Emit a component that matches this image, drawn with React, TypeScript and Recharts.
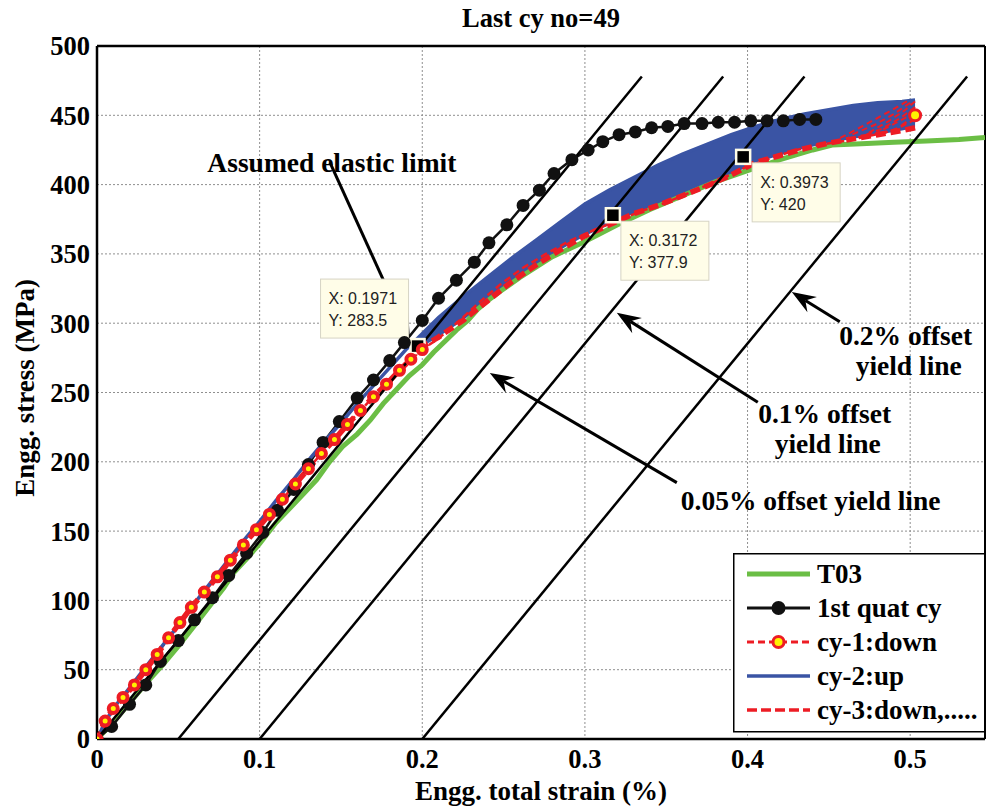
import React from 'react';
import {
  ComposedChart,
  Line,
  Area,
  XAxis,
  YAxis,
  CartesianGrid,
  ReferenceLine,
  ReferenceDot,
  Legend,
} from 'recharts';

const SERIF = '"Liberation Serif", "Times New Roman", Times, serif';
const SANS = '"Liberation Sans", Arial, Helvetica, sans-serif';

const RED = '#ED1C24';
const BLUE = '#3A54A4';
const GREEN = '#6BBE45';
const YELLOW = '#FFF200';
const BLACK = '#111111';

// Axis ticks
const strainTicks = [0, 0.1, 0.2, 0.3, 0.4, 0.5];
const stressTicks = [0, 50, 100, 150, 200, 250, 300, 350, 400, 450, 500];

// T03 monotonic tensile curve
const t03Strain = [0, 0.010, 0.020, 0.030, 0.040, 0.050, 0.060, 0.070, 0.078, 0.084, 0.092, 0.100, 0.110, 0.119, 0.127, 0.135, 0.143, 0.151, 0.160, 0.168, 0.176, 0.184, 0.192, 0.200, 0.207, 0.214, 0.221, 0.228, 0.234, 0.241, 0.248, 0.260, 0.280, 0.300, 0.320, 0.340, 0.360, 0.380, 0.400, 0.420, 0.440, 0.452, 0.470, 0.490, 0.510, 0.530, 0.546];
const t03Stress = [0, 12, 26, 40, 53, 67, 82, 97, 109, 120, 130, 141, 156, 167, 177, 187, 200, 211, 220, 230, 242, 252, 262, 270, 279, 287, 295, 302, 310, 317, 323, 333, 348, 359, 371, 382, 392, 402, 410, 418, 425, 428.5, 429.5, 430.5, 431.5, 432.5, 434];

// First quarter cycle
const quatStrain = [0, 0.009, 0.020, 0.030, 0.039, 0.050, 0.060, 0.071, 0.081, 0.092, 0.102, 0.111, 0.121, 0.130, 0.139, 0.149, 0.160, 0.170, 0.180, 0.189, 0.200, 0.210, 0.221, 0.232, 0.241, 0.252, 0.262, 0.272, 0.281, 0.292, 0.302, 0.311, 0.321, 0.331, 0.341, 0.351, 0.361, 0.372, 0.382, 0.392, 0.402, 0.412, 0.422, 0.432, 0.442];
const quatStress = [0, 9, 25, 39, 56, 71, 86, 102, 118, 134, 149, 165, 180, 198, 214, 229, 246, 259, 273, 286, 302, 318, 331, 344, 358, 371, 385, 396, 408, 418, 425, 431, 436, 438, 441, 442, 444, 444, 445, 445, 446, 446, 446, 447, 447];

// cy-1: unloading branch
const cy1Strain = [0, 0.005, 0.010, 0.016, 0.023, 0.030, 0.037, 0.044, 0.051, 0.058, 0.066, 0.074, 0.082, 0.090, 0.098, 0.106, 0.114, 0.122, 0.130, 0.138, 0.146, 0.154, 0.162, 0.170, 0.178, 0.186, 0.193, 0.200, 0.210, 0.222, 0.235, 0.248, 0.262, 0.276, 0.290, 0.305, 0.320, 0.335, 0.350, 0.366, 0.382, 0.398, 0.414, 0.430, 0.446, 0.462, 0.478, 0.492, 0.503];
const cy1Stress = [0, 13, 22, 30, 39, 50, 61, 73, 84, 95, 106, 117, 129, 140, 151, 162, 173, 184, 195, 206, 216, 227, 237, 247, 256, 266, 274, 281, 289, 301, 315, 328, 340, 350, 359, 367, 374, 381, 387, 395, 403, 412, 419, 425, 429, 432, 436, 440, 450];

// cy-2: reloading branch
const cy2Strain = [0, 0.005, 0.010, 0.020, 0.030, 0.040, 0.050, 0.060, 0.070, 0.080, 0.090, 0.100, 0.110, 0.120, 0.130, 0.140, 0.150, 0.160, 0.170, 0.180, 0.190, 0.197, 0.210, 0.225, 0.240, 0.255, 0.270, 0.285, 0.300, 0.315, 0.330, 0.345, 0.360, 0.375, 0.390, 0.405, 0.420, 0.435, 0.450, 0.465, 0.480, 0.495, 0.503];
const cy2Stress = [0, 12, 22, 37, 52, 67, 82, 98, 113, 128, 143, 157, 172, 186, 201, 215, 228, 242, 255, 268, 281, 289, 304, 319, 333, 347, 360, 373, 386, 396, 405, 414, 422, 429, 436, 442, 447, 451, 454, 457, 459, 460, 461];

// Envelope swept by the later cycles
const bandStrain = [0.197, 0.210, 0.225, 0.240, 0.255, 0.270, 0.285, 0.300, 0.315, 0.330, 0.345, 0.360, 0.375, 0.390, 0.405, 0.420, 0.435, 0.450, 0.465, 0.480, 0.495, 0.503];
const bandLow = [281, 290, 302, 316, 330, 342, 353, 363, 371, 379, 385, 392, 399, 407, 416, 421, 426, 430, 433, 436, 439, 441];
const bandHigh = [289, 304, 319, 333, 347, 360, 373, 386, 396, 405, 414, 422, 429, 436, 442, 447, 451, 454, 457, 459, 460, 461];

// Unloading branches of the last cycles near the peak
const unloadStrain = [
  [0.503, 0.496, 0.487, 0.474],
  [0.503, 0.494, 0.482, 0.468],
  [0.503, 0.492, 0.479],
  [0.503, 0.495, 0.484],
  [0.500, 0.490, 0.478, 0.462],
  [0.498, 0.486, 0.472, 0.456],
];
const unloadStress = [
  [460, 453, 446, 437],
  [456, 448, 440, 434],
  [452, 445, 437],
  [447, 442, 437],
  [459, 451, 443, 435],
  [460, 452, 443, 433],
];

// Elastic line and offset yield lines
const offsetStart = [0, 0.05, 0.1, 0.2];
const offsetEnd = [0.335, 0.385, 0.435, 0.535];
const offsetTopStress = 478;

// Data cursors
const tipStrain = [0.1971, 0.3172, 0.3973];
const tipStress = [283.5, 377.9, 420];

// Annotation text anchors (strain, stress at text baseline)
const noteText = ['Assumed elastic limit', '0.05% offset yield line', '0.1% offset', 'yield line', '0.2% offset', 'yield line'];
const noteStrain = [0.1444, 0.4388, 0.4474, 0.4493, 0.4972, 0.4991];
const noteStress = [409, 165, 228, 206, 284, 262.5];

// Annotation arrows: tail -> head
const arrowTailStrain = [0.1432, 0.3565, 0.4063, 0.4567];
const arrowTailStress = [416, 185, 243, 301];
const arrowHeadStrain = [0.1924, 0.2415, 0.3196, 0.4272];
const arrowHeadStress = [289, 264, 307.5, 322.5];

const legendLabels = ['T03', '1st quat cy', 'cy-1:down', 'cy-2:up', 'cy-3:down,.....'];

const zip = (xs: number[], ys: number[]) => xs.map((x, i) => ({ x, y: ys[i] }));

const t03Data = zip(t03Strain, t03Stress);
const quatData = zip(quatStrain, quatStress);
const cy1Data = zip(cy1Strain, cy1Stress);
const cy2Data = zip(cy2Strain, cy2Stress);
const bandData = bandStrain.map((x, i) => ({ x, range: [bandLow[i], bandHigh[i]] }));
const cy3Data = [
  ...cy1Data.filter((p) => p.x < 0.197),
  ...zip(bandStrain, bandLow),
].reverse();
const unloadData = unloadStrain.map((xs, i) => zip(xs, unloadStress[i]));
const offsetData = offsetStart.map((x0, i) => [
  { x: x0, y: 0 },
  { x: offsetEnd[i], y: offsetTopStress },
]);

const TIP_OFFSETS = [
  [-97, -67],
  [8, 6],
  [9, 6],
];

const tickStyle = { fill: '#000', fontSize: 26.5, fontWeight: 'bold', fontFamily: SERIF };

function Arrow(props: any) {
  const { x1, y1, x2, y2 } = props;
  const dx = x2 - x1;
  const dy = y2 - y1;
  const L = Math.hypot(dx, dy) || 1;
  const ux = dx / L;
  const uy = dy / L;
  const nx = -uy;
  const ny = ux;
  const len = 24;
  const hw = 9;
  const notch = 16;
  const bx = x2 - ux * len;
  const by = y2 - uy * len;
  const p1 = `${bx + nx * hw},${by + ny * hw}`;
  const p2 = `${bx - nx * hw},${by - ny * hw}`;
  const pn = `${x2 - ux * notch},${y2 - uy * notch}`;
  return (
    <g>
      <line x1={x1} y1={y1} x2={x2 - ux * notch} y2={y2 - uy * notch} stroke="#000" strokeWidth={3} />
      <polygon points={`${x2},${y2} ${p1} ${pn} ${p2}`} fill="#000" />
    </g>
  );
}

function makeTip(i: number) {
  return (p: any) => {
    const { cx, cy } = p;
    const [ox, oy] = TIP_OFFSETS[i];
    const bx = cx + ox;
    const by = cy + oy;
    return (
      <g>
        <rect x={bx} y={by} width={88} height={59} fill="#FFFDE8" stroke="#D6D4C4" strokeWidth={1} />
        <text x={bx + 8} y={by + 25} fontFamily={SANS} fontSize={16} fill="#222">
          {`X: ${tipStrain[i]}`}
        </text>
        <text x={bx + 8} y={by + 47} fontFamily={SANS} fontSize={16} fill="#222">
          {`Y: ${tipStress[i]}`}
        </text>
        <rect x={cx - 7} y={cy - 7} width={14} height={14} fill="#000" stroke="#FFFDE8" strokeWidth={2.5} />
      </g>
    );
  };
}

function makeNote(i: number) {
  return (p: any) => (
    <text
      x={p.cx}
      y={p.cy}
      textAnchor="middle"
      fontFamily={SERIF}
      fontWeight="bold"
      fontSize={27.5}
      fill="#000"
    >
      {noteText[i]}
    </text>
  );
}

// cy-1 circles are drawn on the shared elastic part and at the peak
function Cy1Dot(p: any) {
  const last = p.index === cy1Data.length - 1;
  if (!last && p.payload && p.payload.x > 0.2) return <g key={`c1${p.index}`} />;
  return (
    <circle key={`c1${p.index}`} cx={p.cx} cy={p.cy} r={last ? 5.5 : 4.5} fill={YELLOW} stroke={RED} strokeWidth={last ? 3 : 4} />
  );
}

function LegendBox() {
  const rowY = (i: number) => 21 + i * 34;
  const x1 = 14;
  const x2 = 77;
  const mx = (x1 + x2) / 2;
  return (
    <svg width={253} height={180} style={{ display: 'block' }}>
      <rect x={0.75} y={0.75} width={251} height={178} fill="#fff" stroke="#000" strokeWidth={1.5} />
      {/* T03 */}
      <line x1={x1} y1={rowY(0)} x2={x2} y2={rowY(0)} stroke={GREEN} strokeWidth={5} />
      {/* 1st quat cy */}
      <line x1={x1} y1={rowY(1)} x2={x2} y2={rowY(1)} stroke={BLACK} strokeWidth={3} />
      <circle cx={mx} cy={rowY(1)} r={7} fill={BLACK} />
      {/* cy-1 */}
      <line x1={x1} y1={rowY(2)} x2={x2} y2={rowY(2)} stroke={RED} strokeWidth={3} strokeDasharray="7 4" />
      <circle cx={mx} cy={rowY(2)} r={5.5} fill={YELLOW} stroke={RED} strokeWidth={3} />
      {/* cy-2 */}
      <line x1={x1} y1={rowY(3)} x2={x2} y2={rowY(3)} stroke={BLUE} strokeWidth={3.5} />
      {/* cy-3 */}
      <line x1={x1} y1={rowY(4)} x2={x2} y2={rowY(4)} stroke={RED} strokeWidth={3.5} strokeDasharray="10 4" />
      {legendLabels.map((t, i) => (
        <text
          key={t}
          x={84}
          y={rowY(i) + 9}
          fontFamily={SERIF}
          fontWeight="bold"
          fontSize={27}
          fill="#000"
        >
          {t}
        </text>
      ))}
    </svg>
  );
}

export default function App() {
  return (
    <div style={{ position: 'absolute', left: 0, top: 0, width: 986, height: 807, background: '#fff' }}>
      <ComposedChart width={986} height={805} margin={{ top: 46, right: 1, bottom: 0, left: 0 }}>
        <CartesianGrid stroke="#8f8f8f" strokeDasharray="2 2" strokeWidth={1} />
        <XAxis
          type="number"
          dataKey="x"
          domain={[0, 0.546]}
          ticks={strainTicks}
          allowDataOverflow
          height={66}
          tickLine={false}
          tickSize={0}
          tickMargin={10}
          axisLine={{ stroke: '#000', strokeWidth: 2.5 }}
          tick={tickStyle}
          interval={0}
        />
        <YAxis
          type="number"
          domain={[0, 500]}
          ticks={stressTicks}
          allowDataOverflow
          width={97}
          tickLine={false}
          tickSize={0}
          tickMargin={7}
          axisLine={{ stroke: '#000', strokeWidth: 2.5 }}
          tick={tickStyle}
          interval={0}
        />
        <ReferenceLine y={500} stroke="#000" strokeWidth={2.5} />
        <ReferenceLine x={0.546} stroke="#000" strokeWidth={2} />

        <Line data={t03Data} dataKey="y" type="linear" stroke={GREEN} strokeWidth={5} dot={false} isAnimationActive={false} legendType="none" />
        <Line
          data={quatData}
          dataKey="y"
          type="linear"
          stroke={BLACK}
          strokeWidth={2.5}
          dot={(p: any) => <circle key={`q${p.index}`} cx={p.cx} cy={p.cy} r={6.5} fill={BLACK} />}
          isAnimationActive={false}
          legendType="none"
        />
        <Line
          data={cy1Data}
          dataKey="y"
          type="linear"
          stroke={RED}
          strokeWidth={2.5}
          strokeDasharray="7 4"
          dot={Cy1Dot}
          isAnimationActive={false}
          legendType="none"
        />
        <Area data={bandData} dataKey="range" type="linear" stroke="none" fill={BLUE} fillOpacity={1} isAnimationActive={false} legendType="none" />
        <Line data={cy2Data} dataKey="y" type="linear" stroke={BLUE} strokeWidth={3.5} dot={false} isAnimationActive={false} legendType="none" />
        <Line data={cy3Data} dataKey="y" type="linear" stroke={RED} strokeWidth={5.5} strokeDasharray="10 5" dot={false} isAnimationActive={false} legendType="none" />
        {unloadData.map((d, i) => (
          <Line key={`u${i}`} data={d} dataKey="y" type="linear" stroke={RED} strokeWidth={2} strokeDasharray="6 4" dot={false} isAnimationActive={false} legendType="none" />
        ))}
        {offsetData.map((d, i) => (
          <Line key={`o${i}`} data={d} dataKey="y" type="linear" stroke="#000" strokeWidth={2.5} dot={false} isAnimationActive={false} legendType="none" />
        ))}

        {tipStrain.map((x, i) => (
          <ReferenceDot key={`tip${i}`} x={x} y={tipStress[i]} r={1} ifOverflow="visible" shape={makeTip(i)} />
        ))}
        {arrowTailStrain.map((x, i) => (
          <ReferenceLine
            key={`ar${i}`}
            segment={[
              { x, y: arrowTailStress[i] },
              { x: arrowHeadStrain[i], y: arrowHeadStress[i] },
            ]}
            ifOverflow="visible"
            shape={(p: any) => <Arrow {...p} />}
          />
        ))}
        {noteText.map((t, i) => (
          <ReferenceDot key={`n${i}`} x={noteStrain[i]} y={noteStress[i]} r={1} ifOverflow="visible" shape={makeNote(i)} />
        ))}

        <Legend
          layout="vertical"
          align="center"
          verticalAlign="middle"
          content={() => <LegendBox />}
          wrapperStyle={{ left: 733, top: 553, width: 253, height: 180, bottom: 'auto', right: 'auto' }}
        />
      </ComposedChart>
      <svg
        width={986}
        height={807}
        style={{ position: 'absolute', left: 0, top: 0, pointerEvents: 'none' }}
      >
        <text x={541} y={27} textAnchor="middle" fontFamily={SERIF} fontWeight="bold" fontSize={26.5} fill="#000">
          Last cy no=49
        </text>
        <text x={541} y={800} textAnchor="middle" fontFamily={SERIF} fontWeight="bold" fontSize={27} fill="#000">
          Engg. total strain (%)
        </text>
        <text
          x={25}
          y={388}
          textAnchor="middle"
          dominantBaseline="central"
          transform="rotate(-90 25 388)"
          fontFamily={SERIF}
          fontWeight="bold"
          fontSize={27}
          fill="#000"
        >
          Engg. stress (MPa)
        </text>
      </svg>
    </div>
  );
}
